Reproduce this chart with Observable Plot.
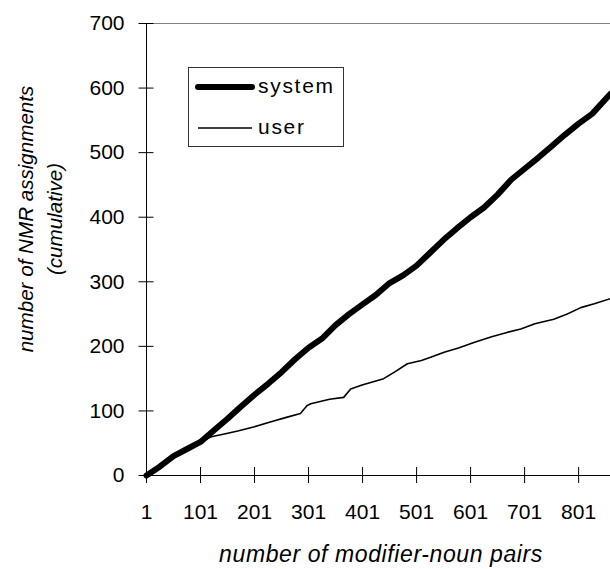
<!DOCTYPE html>
<html>
<head>
<meta charset="utf-8">
<script src="https://cdn.jsdelivr.net/npm/d3@7"></script>
<script src="https://cdn.jsdelivr.net/npm/@observablehq/plot@0.6"></script>
<style>
  html, body { margin: 0; padding: 0; background: #fff; }
  #wrap { position: relative; width: 610px; height: 569px; overflow: hidden; font-family: "Liberation Sans", Arial, sans-serif; }
  #legend { position: absolute; left: 188px; top: 67px; }
</style>
</head>
<body>
<div id="wrap"></div>
<script>
// x positions (modifier-noun pair index) and cumulative counts
const systemX = [1, 26, 51, 76, 101, 126, 151, 176, 201, 226, 251, 276, 301, 326, 351, 376, 401, 426, 451, 476, 501, 526, 551, 576, 601, 626, 651, 676, 701, 726, 751, 776, 801, 826, 860];
const systemY = [0, 14, 30, 41, 52, 70, 88, 107, 125, 142, 160, 180, 198, 212, 233, 250, 265, 280, 298, 310, 325, 345, 365, 383, 400, 415, 435, 458, 475, 492, 510, 528, 545, 560, 591];

const userX = [1, 26, 51, 76, 101, 121, 143, 170, 199, 230, 260, 286, 298, 305, 340, 366, 379, 400, 416, 440, 460, 484, 510, 527, 552, 580, 607, 640, 670, 694, 720, 755, 780, 805, 830, 860];
const userY = [0, 14, 30, 41, 52, 60, 64, 69, 75, 83, 90, 96, 108, 111, 118, 121, 134, 140, 144, 150, 160, 173, 178, 183, 191, 198, 206, 215, 222, 227, 235, 242, 250, 260, 266, 274];

const xTicks = [1, 101, 201, 301, 401, 501, 601, 701, 801];
const yTicks = [0, 100, 200, 300, 400, 500, 600, 700];
const seriesNames = ["system", "user"];
const xTitle = "number of modifier-noun pairs";
const yTitle = ["number of NMR assignments", "(cumulative)"];

const systemData = systemX.map((x, i) => ({x, y: systemY[i]}));
const userData = userX.map((x, i) => ({x, y: userY[i]}));

const chart = Plot.plot({
  width: 610,
  height: 569,
  marginLeft: 146,
  marginRight: 0,
  marginTop: 23,
  marginBottom: 94,
  style: {fontFamily: "'Liberation Sans', Arial, sans-serif", fontSize: "21px", color: "#000", background: "#fff", overflow: "visible"},
  x: {domain: [1, 860], axis: null},
  y: {domain: [0, 700], axis: null},
  marks: [
    Plot.ruleY([700], {stroke: "#808080", strokeWidth: 1}),
    Plot.axisY(yTicks, {tickSize: 15, dx: 7.5, tickFormat: () => "", stroke: "#000", label: null}),
    Plot.axisY(yTicks, {tickSize: 0, tickPadding: 22, fontSize: 21, fill: "#000", label: null}),
    Plot.axisX(xTicks, {tickSize: 16, dy: -8, tickFormat: () => "", stroke: "#000", label: null}),
    Plot.axisX(xTicks, {tickSize: 0, tickPadding: 29, fontSize: 21, fill: "#000", label: null}),
    Plot.ruleX([1], {stroke: "#000"}),
    Plot.ruleY([0], {stroke: "#000"}),
    Plot.line(systemData, {x: "x", y: "y", stroke: "#000", strokeWidth: 6, strokeLinejoin: "round", strokeLinecap: "round"}),
    Plot.line(userData, {x: "x", y: "y", stroke: "#000", strokeWidth: 1.6, strokeLinejoin: "round"})
  ]
});

const svg = d3.select(chart);
const titleFont = "'Liberation Sans', Arial, sans-serif";
svg.append("text")
  .attr("x", 381).attr("y", 562)
  .attr("text-anchor", "middle")
  .attr("font-style", "italic").attr("font-size", 23).attr("letter-spacing", 0.6).attr("font-family", titleFont)
  .attr("fill", "#000").text(xTitle);
yTitle.forEach((t, i) => {
  svg.append("text")
    .attr("transform", `translate(${28 + i * 29},219) rotate(-90)`)
    .attr("text-anchor", "middle").attr("dominant-baseline", "middle")
    .attr("font-style", "italic").attr("font-size", 20.6).attr("font-family", titleFont)
    .attr("fill", "#000").text(t);
});

document.getElementById("wrap").appendChild(chart);

// legend overlay
const leg = d3.select("#wrap").append("svg").attr("id", "legend")
  .attr("width", 157).attr("height", 81);
leg.append("rect").attr("x", 0.5).attr("y", 0.5).attr("width", 155).attr("height", 79)
  .attr("fill", "#fff").attr("stroke", "#333");
const widths = [6, 1.6];
seriesNames.forEach((name, i) => {
  const cy = i === 0 ? 20 : 61;
  leg.append("line").attr("x1", 10).attr("x2", 64).attr("y1", cy).attr("y2", cy)
    .attr("stroke", "#000").attr("stroke-width", widths[i]).attr("stroke-linecap", i === 0 ? "round" : "butt");
  leg.append("text").attr("x", 70).attr("y", cy).attr("dominant-baseline", "middle")
    .attr("font-size", 21).attr("font-family", titleFont).attr("fill", "#000")
    .attr("letter-spacing", 1.7).text(name);
});
</script>
</body>
</html>
